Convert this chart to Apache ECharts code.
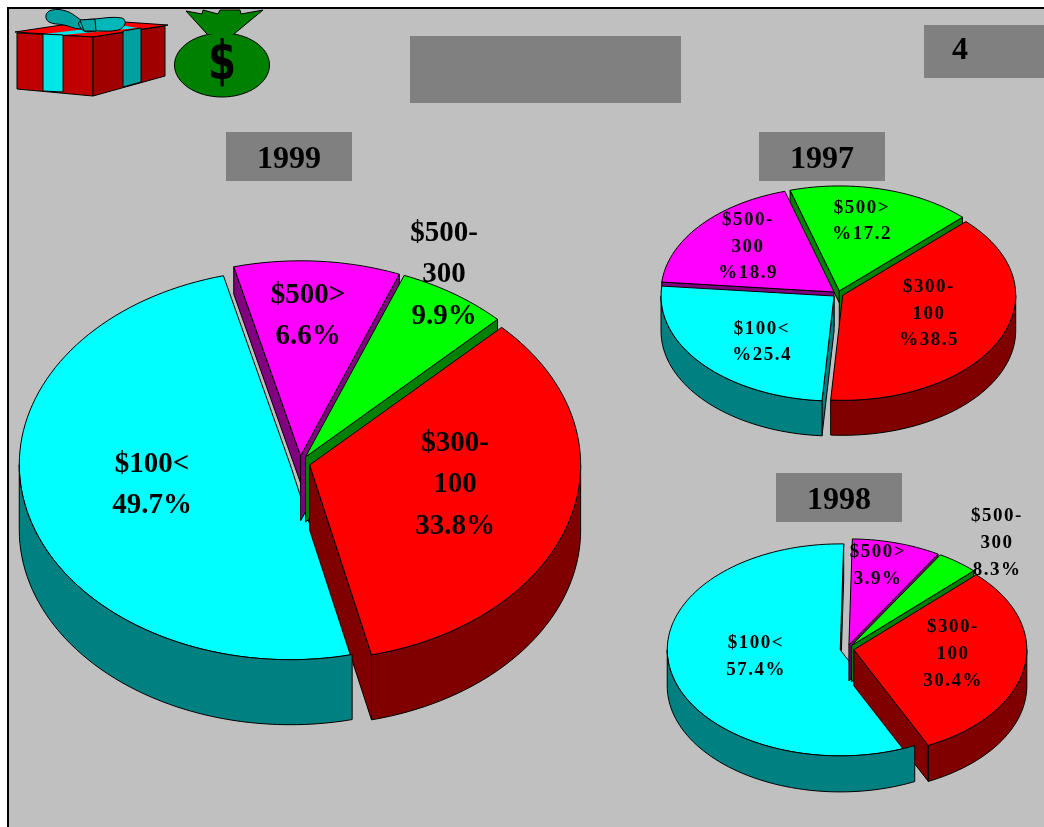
<!DOCTYPE html>
<html><head><meta charset="utf-8">
<style>html,body{margin:0;padding:0;background:#fff}#c{width:1044px;height:827px}</style>
<script src="https://cdn.jsdelivr.net/npm/echarts@6/dist/echarts.min.js"></script>
</head><body><div id="c"></div>
<script>
// ---- data ----
const categories = ['$100<', '$500-\n300', '$500>', '$300-\n100'];
const values1999 = [49.7, 9.9, 6.6, 33.8];
const values1998 = [57.4, 8.3, 3.9, 30.4];
const values1997 = [25.4, 18.9, 17.2, 38.5];
const percent1999 = ['49.7%', '9.9%', '6.6%', '33.8%'];
const percent1998 = ['57.4%', '8.3%', '3.9%', '30.4%'];
const percent1997 = ['%25.4', '%18.9', '%17.2', '%38.5'];
const pageNumber = '4';

// ---- styling / layout ----
const faceColors = ['#00FFFF', '#FF00FF', '#00FF00', '#FF0000'];
const wallColors = ['#008080', '#800080', '#008000', '#800000'];
const FONT_L = 'bold 29px "Liberation Serif"';
const FONT_S = 'bold 19px "Liberation Serif"';

// small pie labels are letter-spaced in the reference
const origFill = CanvasRenderingContext2D.prototype.fillText;
CanvasRenderingContext2D.prototype.fillText = function (t, x, y, w) {
  this.letterSpacing = this.font.indexOf('19px') >= 0 ? '1.5px' : '0px';
  return w === undefined ? origFill.call(this, t, x, y) : origFill.call(this, t, x, y, w);
};

const pies = [
  { values: values1999, pct: percent1999, first: 166.8,
    cx: 300, cy: 463, rx: 271, ry: 195, depth: 65, backFrac: 0.42, explode: 0.037, font: FONT_L, lh: 41.5,
    labelPos: [[152, 485], [444, 275], [308, 316], [455, 485]] },
  { values: values1997, pct: percent1997, first: 184,
    cx: 838, cy: 294, rx: 173, ry: 105, depth: 35, backFrac: 0.34, explode: 0.03, font: FONT_S, lh: 26.5,
    labelPos: [[762, 342], [748, 247], [862, 221], [929, 314]] },
  { values: values1998, pct: percent1998, first: 154.5,
    cx: 847, cy: 649, rx: 173, ry: 106, depth: 36, backFrac: 1, explode: 0.04, font: FONT_S, lh: 27,
    labelPos: [[756, 657], [997, 543], [878, 566], [953, 654]] }
];

const rad = d => d * Math.PI / 180;

function makeRender(pie) {
  return function (params, api) {
    const t0 = api.value(1), t1 = api.value(2), i = params.dataIndex;
    const mid = (t0 + t1) / 2, span = t1 - t0;
    const ax = pie.cx + pie.explode * pie.rx * Math.sin(rad(mid));
    const ay = pie.cy - pie.explode * pie.ry * Math.cos(rad(mid));
    const rim = (a, d) => [ax + pie.rx * Math.sin(rad(a)), ay - pie.ry * Math.cos(rad(a)) + (d || 0)];
    const arc = (a, b, d) => {
      const n = Math.max(2, Math.ceil((b - a) / 2)), out = [];
      for (let k = 0; k <= n; k++) out.push(rim(a + (b - a) * k / n, d));
      return out;
    };
    const face = faceColors[i], wall = wallColors[i];
    const big = span > 170;
    const base = 10 + Math.round(40 * (1 - Math.cos(rad(mid)))) * 2;
    const poly = (pts, fill, z) => ({
      type: 'polygon', z2: z, shape: { points: pts },
      style: { fill: fill, stroke: '#000', lineWidth: 1, lineJoin: 'round' }
    });
    const children = [];
    // radial side faces (the start face is shorter when it points to the back)
    if (Math.sin(rad(t0)) < 0) {
      const d0 = Math.cos(rad(t0)) > 0.7 ? pie.depth * pie.backFrac : pie.depth;
      children.push(poly([[ax, ay], rim(t0), rim(t0, d0), [ax, ay + d0]], wall, big ? 0 : base));
    }
    if (Math.sin(rad(t1)) > 0) children.push(poly([[ax, ay], rim(t1), rim(t1, pie.depth), [ax, ay + pie.depth]], wall, big ? 0 : base));
    // outer wall, front half only
    [[90, 270], [450, 630]].forEach(w => {
      const a = Math.max(t0, w[0]), b = Math.min(t1, w[1]);
      if (b > a) children.push(poly(arc(a, b, 0).concat(arc(a, b, pie.depth).reverse()), wall, big ? 300 : base));
    });
    // top
    children.push(poly([[ax, ay]].concat(arc(t0, t1, 0)), face, big ? 1 : base + 1));
    // label
    const p = pie.labelPos[i];
    children.push({
      type: 'text', z2: 400,
      style: { x: p[0], y: p[1], text: categories[i] + '\n' + pie.pct[i], font: pie.font,
        lineHeight: pie.lh, fill: '#000', align: 'center', verticalAlign: 'middle' }
    });
    return { type: 'group', children: children };
  };
}

const series = pies.map(pie => {
  const total = pie.values.reduce((a, b) => a + b, 0);
  let cur = pie.first;
  const data = pie.values.map(v => {
    const a = cur; cur += v / total * 360;
    return [v, a, cur];
  });
  return { type: 'custom', coordinateSystem: 'none', silent: true, animation: false,
    clip: false, data: data, renderItem: makeRender(pie) };
});

const box = (x, y, w, h) => ({ type: 'rect', z: 1, silent: true,
  shape: { x, y, width: w, height: h }, style: { fill: '#808080' } });
const label = (x, y, text) => ({ type: 'text', z: 2, silent: true,
  style: { x, y, text, font: 'bold 32px "Liberation Serif"', fill: '#000', align: 'center', verticalAlign: 'middle' } });
const pg = (pts, fill, smooth, noStroke) => ({ type: 'polygon', z: 1, silent: true,
  shape: { points: pts, smooth: smooth || 0 }, style: { fill, stroke: noStroke ? null : '#000', lineWidth: 1 } });

const graphic = [
  { type: 'rect', z: -1, silent: true, shape: { x: 8, y: 8, width: 1100, height: 900 },
    style: { fill: '#C0C0C0', stroke: '#000', lineWidth: 2 } },
  box(410, 36, 271, 67),
  box(924, 25, 120, 53), label(960, 51, pageNumber),
  box(226, 132, 126, 49), label(289, 159.5, '1999'),
  box(759, 132, 126, 49), label(822, 159.5, '1997'),
  box(776, 473, 126, 49), label(839, 500.5, '1998'),
  // gift
  pg([[15, 32], [93, 37], [168, 25], [95, 20]], '#FF0000'),
  pg([[44, 34], [63, 35], [138, 28], [120, 25]], '#00E5E5', 0, true),
  pg([[17, 33], [93, 37], [93, 96], [17, 89]], '#C00000'),
  pg([[43, 34], [63, 35], [63, 92], [43, 91]], '#00E5E5'),
  pg([[93, 37], [165, 26], [165, 76], [93, 96]], '#A00000'),
  pg([[123, 31], [141, 28], [141, 82], [123, 87]], '#00A0A0'),
  pg([[46, 15], [52, 10], [66, 11], [78, 18], [87, 26], [80, 29], [64, 25], [49, 22]], '#00A0A0', 0.4),
  pg([[79, 22], [95, 19], [122, 18], [125, 24], [118, 30], [96, 31], [84, 31]], '#00B8B8', 0.4),
  pg([[80, 20], [95, 19], [96, 31], [84, 31]], '#00A8A8'),
  // money bag
  { type: 'ellipse', z: 1, silent: true, shape: { cx: 222, cy: 65, rx: 47.5, ry: 32 }, style: { fill: '#008000', stroke: '#000', lineWidth: 1 } },
  pg([[186, 11], [202, 14], [203, 10], [218, 14], [220, 10], [240, 10], [241, 14], [263, 10], [234, 34], [207, 34]], '#008000', 0, true),
  { type: 'polyline', z: 1, silent: true, shape: { points: [[207, 34], [186, 11], [202, 14], [203, 10], [218, 14], [220, 10], [240, 10], [241, 14], [263, 10], [234, 34]] }, style: { fill: null, stroke: '#000', lineWidth: 1 } },
  { type: 'text', z: 2, silent: true, x: 222, y: 65, scaleX: 0.75,
    style: { x: 0, y: 0, text: '$', font: 'bold 54px "DejaVu Sans"', fill: '#000', align: 'center', verticalAlign: 'middle' } }
];

const chart = echarts.init(document.getElementById('c'));
chart.setOption({ animation: false, backgroundColor: '#fff', graphic: graphic, series: series });
</script>
</body></html>
